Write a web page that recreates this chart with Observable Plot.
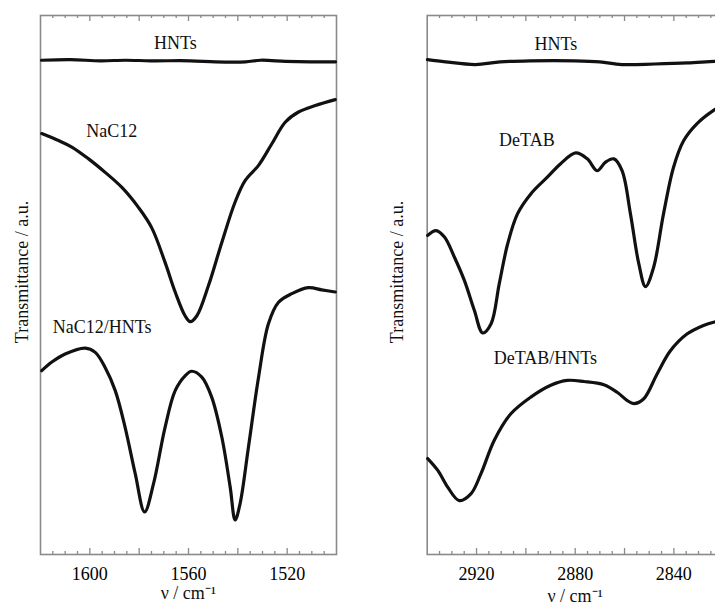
<!DOCTYPE html>
<html>
<head>
<meta charset="utf-8">
<script src="https://cdn.jsdelivr.net/npm/d3@7"></script>
<script src="https://cdn.jsdelivr.net/npm/@observablehq/plot@0.6"></script>
<style>
  html, body { margin: 0; padding: 0; background: #fff; overflow: hidden; }
  #wrap { display: flex; width: 715px; height: 606px; overflow: hidden; }
  #wrap svg { flex: none; }
</style>
</head>
<body>
<div id="wrap"></div>
<script>
// ---------- data (wavenumber in cm^-1, transmittance in a.u.) ----------
const hntsLeftWn = [1619.6,1607.8,1595.7,1585.5,1575.4,1559.2,1549.1,1536.9,1530.8,1520.7,1510.6,1500.4];
const hntsLeftT  = [91.7,91.8,91.6,91.7,91.6,91.6,91.4,91.4,91.7,91.5,91.4,91.4];

const nac12Wn = [1619.5,1612.7,1607.3,1600.5,1593.8,1587.0,1580.3,1574.9,1569.5,1565.4,1561.4,1559.3,1556.6,1551.9,1546.5,1541.1,1537.0,1531.6,1526.2,1520.8,1515.4,1508.6,1500.5];
const nac12T  = [78.1,76.8,75.6,73.4,70.9,68.1,64.4,60.6,54.2,48.7,44.3,43.2,44.3,49.9,57.9,65.4,69.4,72.2,76.2,80.2,82.1,83.3,84.4];

const nac12HntsWn = [1619.5,1615.4,1610.0,1601.9,1597.8,1593.8,1589.7,1585.7,1581.6,1577.8,1574.2,1569.5,1565.4,1561.3,1558.7,1554.6,1550.6,1546.5,1543.1,1541.1,1539.1,1535.7,1531.6,1527.6,1523.5,1518.1,1511.4,1506.0,1500.5];
const nac12HntsT  = [34.1,35.7,37.2,38.3,37.5,34.7,30.4,23.6,15.0,7.9,13.1,23.6,30.4,33.2,34.0,32.9,29.2,21.8,12.5,6.4,9.4,19.9,32.9,42.8,46.8,48.4,49.5,49.1,48.7];

const hntsRightWn = [2939.9,2932.6,2920.5,2910.4,2898.3,2880.1,2870.0,2861.1,2847.8,2834.4,2823.5,2820.0];
const hntsRightT  = [91.8,91.4,90.9,91.4,91.6,91.6,91.4,90.9,91.0,91.2,91.5,91.5];

const detabWn = [2939.8,2936.4,2933.0,2929.0,2924.9,2920.9,2917.5,2914.1,2910.8,2907.4,2903.4,2898.0,2891.3,2885.9,2879.8,2875.1,2871.1,2867.7,2864.3,2861.0,2857.6,2854.2,2851.5,2848.2,2844.2,2840.1,2836.0,2830.7,2823.9,2820.0];
const detabT  = [59.2,60.1,58.9,55.2,50.8,45.3,41.1,42.8,50.2,57.6,63.2,66.9,70.0,72.5,74.5,73.4,71.2,72.8,73.4,71.2,63.2,53.9,49.7,53.3,63.2,71.9,76.8,79.9,82.4,83.4];

const detabHntsWn = [2939.8,2935.7,2931.7,2927.0,2922.2,2918.2,2912.8,2906.1,2898.0,2889.9,2883.2,2876.4,2868.4,2863.0,2859.0,2856.2,2852.2,2846.8,2841.4,2834.7,2828.0,2823.9,2820.0];
const detabHntsT  = [17.8,15.6,12.5,10.0,11.3,15.0,21.2,26.1,29.2,31.4,32.3,32.1,31.5,30.1,28.6,28.0,28.9,33.5,37.8,40.9,42.5,43.1,43.4];

// curve labels
const leftNames   = ["HNTs", "NaC12", "NaC12/HNTs"];
const leftNameWn  = [1565.3, 1591.1, 1595.0];
const leftNameT   = [94.8, 78.5, 42.2];
const rightNames  = ["HNTs", "DeTAB", "DeTAB/HNTs"];
const rightNameWn = [2887.8, 2899.6, 2892.1];
const rightNameT  = [94.7, 76.8, 36.5];

// axes
const leftDomain  = [1620, 1500];
const rightDomain = [2940, 2820];
const leftTickLabels  = [1600, 1560, 1520];
const rightTickLabels = [2920, 2880, 2840];
const xLabel = "ν / cm⁻¹";
const yLabel = "Transmittance / a.u.";

// ---------- helpers ----------
const rows = (wn, t, s) => wn.map((w, i) => ({wn: w, t: t[i], series: s}));
const labelRows = (n, w, t) => n.map((s, i) => ({name: s, wn: w[i], t: t[i]}));

const FONT = "'Liberation Serif', 'Times New Roman', serif";
const GRAY = "#8a8a8a";
const H = 606, MT = 15, MB = 52;
const FH = H - MT - MB; // frame height

function panel({domain, series, labels, tickLabels, marginLeft, marginRight, yDx, xDy}) {
  const [a, b] = domain;
  const lo = Math.min(a, b), hi = Math.max(a, b);
  const majors = d3.range(lo + 20, hi, 20);
  const minors = d3.range(lo + 5, hi, 5).filter(v => v % 20 !== 0);
  return Plot.plot({
    width: 380, height: H,
    marginLeft, marginRight, marginTop: MT, marginBottom: MB,
    x: {domain, axis: null},
    y: {domain: [0, 100], axis: null},
    style: {fontFamily: FONT, fontSize: "18px", background: "#fff", color: "#000", overflow: "visible"},
    marks: [
      // inward ticks on bottom and top
      Plot.tickX(minors, {x: d => d, stroke: GRAY, strokeWidth: 1.3, insetTop: FH - 3}),
      Plot.tickX(majors, {x: d => d, stroke: GRAY, strokeWidth: 1.3, insetTop: FH - 6}),
      Plot.tickX(minors, {x: d => d, stroke: GRAY, strokeWidth: 1.3, insetBottom: FH - 3}),
      Plot.tickX(majors, {x: d => d, stroke: GRAY, strokeWidth: 1.3, insetBottom: FH - 6}),
      Plot.frame({stroke: GRAY, strokeWidth: 1.6}),
      Plot.axisX(tickLabels, {anchor: "bottom", tickSize: 0, tickPadding: 13, tickFormat: d => `${d}`, label: null, fontSize: 18}),
      Plot.line(series, {x: "wn", y: "t", z: "series", stroke: "#111", strokeWidth: 3.2, curve: "catmull-rom"}),
      Plot.text(labels, {x: "wn", y: "t", text: "name", fontSize: 18, fill: "#111"}),
      Plot.text([xLabel], {frameAnchor: "bottom", dy: xDy, lineAnchor: "bottom", fontSize: 18, fill: "#111"}),
      Plot.text([yLabel], {frameAnchor: "left", rotate: -90, dx: yDx, dy: -13, lineAnchor: "bottom", textAnchor: "middle", fontSize: 18, fill: "#111"})
    ]
  });
}

const left = panel({
  domain: leftDomain,
  series: [
    ...rows(hntsLeftWn, hntsLeftT, "HNTs"),
    ...rows(nac12Wn, nac12T, "NaC12"),
    ...rows(nac12HntsWn, nac12HntsT, "NaC12/HNTs")
  ],
  labels: labelRows(leftNames, leftNameWn, leftNameT),
  tickLabels: leftTickLabels,
  marginLeft: 40, marginRight: 44, yDx: -13, xDy: 44
});

const right = panel({
  domain: rightDomain,
  series: [
    ...rows(hntsRightWn, hntsRightT, "HNTs"),
    ...rows(detabWn, detabT, "DeTAB"),
    ...rows(detabHntsWn, detabHntsT, "DeTAB/HNTs")
  ],
  labels: labelRows(rightNames, rightNameWn, rightNameT),
  tickLabels: rightTickLabels,
  marginLeft: 46.7, marginRight: 37.3, yDx: -24, xDy: 47
});

const wrap = document.getElementById("wrap");
wrap.appendChild(left);
wrap.appendChild(right);
</script>
</body>
</html>
